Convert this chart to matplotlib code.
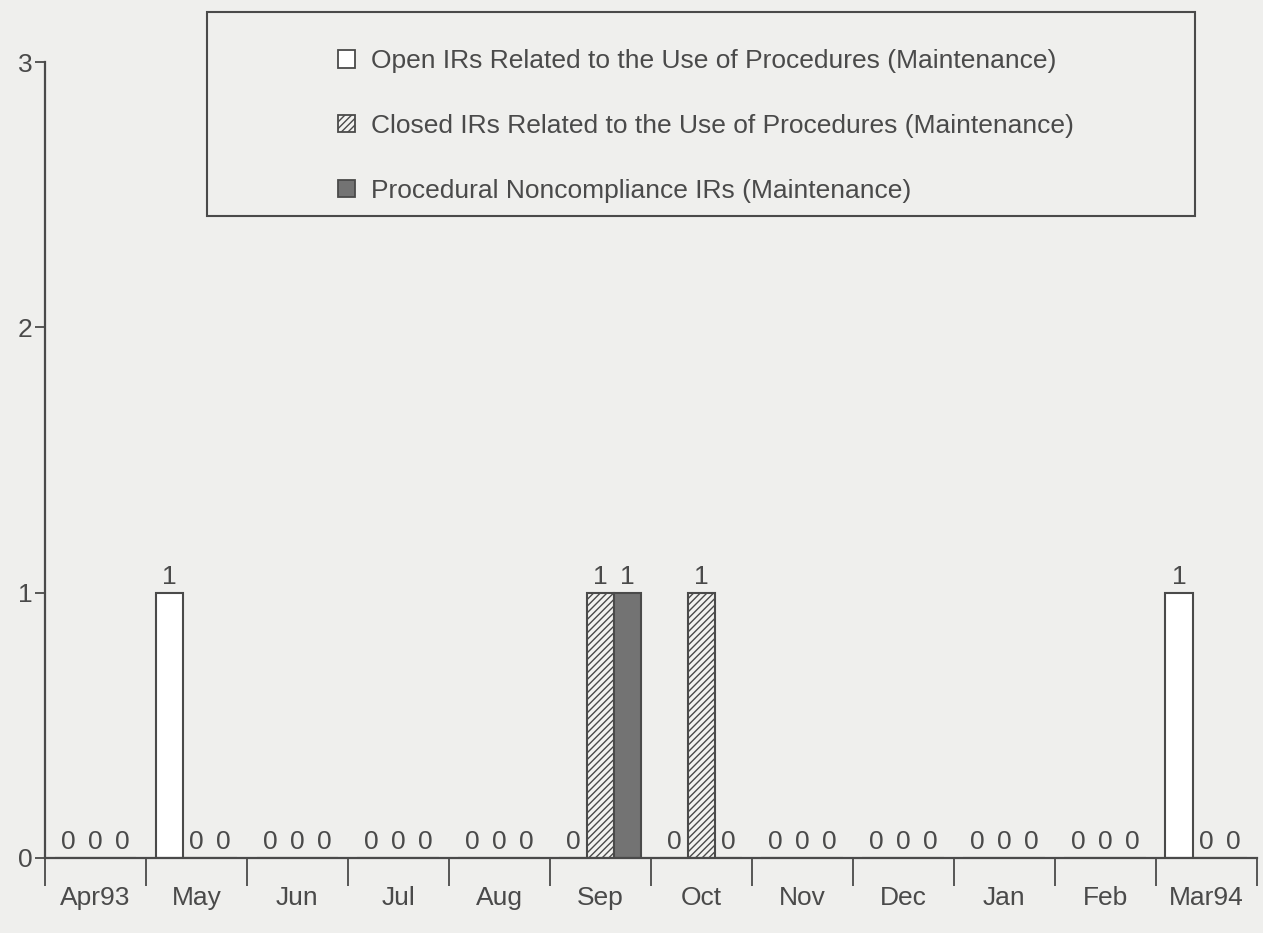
import matplotlib
matplotlib.use('Agg')
import matplotlib.pyplot as plt
import numpy as np
from matplotlib.patches import Rectangle, Patch

months = ['Apr93', 'May', 'Jun', 'Jul', 'Aug', 'Sep', 'Oct', 'Nov', 'Dec', 'Jan', 'Feb', 'Mar94']
open_irs = [0, 1, 0, 0, 0, 0, 0, 0, 0, 0, 0, 1]
closed_irs = [0, 0, 0, 0, 0, 1, 1, 0, 0, 0, 0, 0]
noncompliance_irs = [0, 0, 0, 0, 0, 1, 0, 0, 0, 0, 0, 0]
series_names = ['Open IRs Related to the Use of Procedures (Maintenance)',
                'Closed IRs Related to the Use of Procedures (Maintenance)',
                'Procedural Noncompliance IRs (Maintenance)']

ink = '#4a4a4a'
bg = '#efefed'
plt.rcParams['font.family'] = ['Liberation Sans', 'DejaVu Sans']
plt.rcParams['hatch.color'] = '#555555'
plt.rcParams['hatch.linewidth'] = 1.0
fs = 19

fig = plt.figure(figsize=(12.63, 9.33), dpi=100, facecolor=bg)
ax = fig.add_axes([0.0356, 0.0804, 0.9594, 0.8531])
ax.set_facecolor(bg)

x = np.arange(len(months))
w = 0.27
styles = [dict(color='white', hatch=None),
          dict(color='#f2f2f0', hatch='/////'),
          dict(color='#737373', hatch=None)]
for i, (vals, st) in enumerate(zip([open_irs, closed_irs, noncompliance_irs], styles)):
    pos = x + (i - 1) * w
    ax.bar(pos, vals, width=w, facecolor=st['color'], hatch=st['hatch'],
           edgecolor=ink, linewidth=1.5, zorder=2)
    for p, v in zip(pos, vals):
        ax.annotate(str(v), (p, v), xytext=(0, 3), textcoords='offset points',
                    ha='center', va='bottom', fontsize=fs, color=ink)

ax.set_xlim(-0.5, 11.5)
ax.set_ylim(0, 3)
for s in ['top', 'right']:
    ax.spines[s].set_visible(False)
for s in ['left', 'bottom']:
    ax.spines[s].set_color(ink)
    ax.spines[s].set_linewidth(1.6)

ax.set_yticks([0, 1, 2, 3])
ax.tick_params(axis='y', length=7, width=1.3, color=ink, labelcolor=ink, labelsize=fs, pad=2)
ax.set_xticks(x)
ax.set_xticklabels(months)
ax.set_xticks(np.arange(-0.5, 12, 1), minor=True)
ax.tick_params(axis='x', which='major', length=0, pad=20, labelcolor=ink, labelsize=fs)
ax.tick_params(axis='x', which='minor', length=20, width=1.3, color=ink)

# legend box
fig.patches.append(Rectangle((207 / 1263, 1 - 216 / 933), (1195 - 207) / 1263, (216 - 12) / 933,
                             transform=fig.transFigure, facecolor='none', edgecolor=ink,
                             linewidth=1.5))
handles = [Patch(facecolor=st['color'], hatch=st['hatch'], edgecolor=ink, linewidth=1.3)
           for st in styles]
leg = fig.legend(handles, series_names, loc='upper left',
                 bbox_to_anchor=(338 / 1263, 1 - 49 / 933), frameon=False,
                 fontsize=fs, labelcolor=ink, handlelength=0.65, handleheight=0.65,
                 handletextpad=0.6, labelspacing=1.55, borderpad=0, borderaxespad=0)

fig.savefig('out.png', dpi=100, facecolor=bg)
